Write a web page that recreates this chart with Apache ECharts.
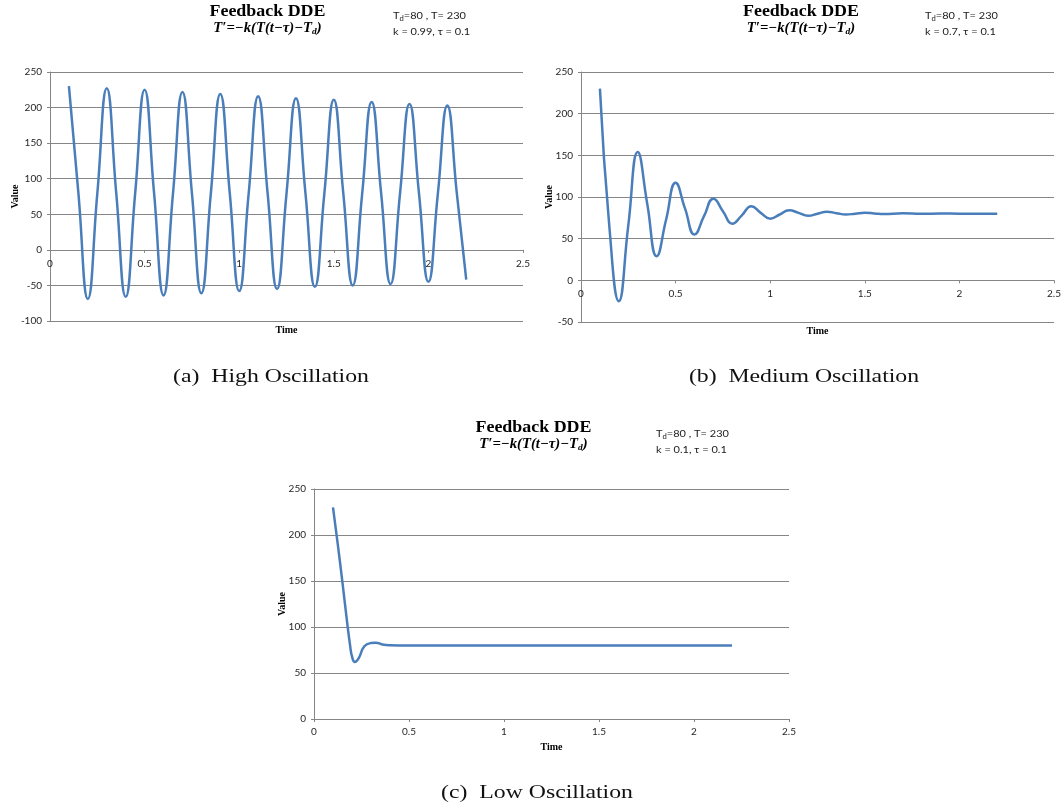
<!DOCTYPE html>
<html><head><meta charset="utf-8">
<script src="https://cdn.jsdelivr.net/npm/echarts@6/dist/echarts.min.js"></script>
<style>html,body{margin:0;padding:0;background:#fff}#c{width:1064px;height:808px}</style>
</head><body><div id="c"></div>
<script>
// ---- data ----
const timesA = [0.10,0.15,0.20,0.25,0.30,0.35,0.40,0.45,0.50,0.55,0.60,0.65,0.70,0.75,0.80,0.85,0.90,0.95,1.00,1.05,1.10,1.15,1.20,1.25,1.30,1.35,1.40,1.45,1.50,1.55,1.60,1.65,1.70,1.75,1.80,1.85,1.90,1.95,2.00,2.05,2.10,2.15,2.20];
const valuesA = [230,80,-69,79,227,80,-66,79,225,80,-64,79,222,80,-61,79,219,80,-58,79,216,80,-55,79,213,80,-52,79,211,80,-50,79,208,80,-48,79,205,80,-45,79,203,80,-42];

const timesB = [0.10,0.15,0.20,0.25,0.30,0.35,0.40,0.45,0.50,0.55,0.60,0.65,0.70,0.75,0.80,0.85,0.90,0.95,1.00,1.05,1.10,1.15,1.20,1.25,1.30,1.35,1.40,1.45,1.50,1.55,1.60,1.70,1.80,1.90,2.00,2.10,2.20];
const valuesB = [230,64,-25,66,154,92,29,73,117,86,55,77,98,83,68,78,89,81,74,79,84,81,77.5,80,82.4,80.6,79,80,81,80.3,79.5,80.4,79.8,80.2,80,80,80];

const timesC = [0.100,0.125,0.150,0.175,0.190,0.200,0.215,0.235,0.265,0.300,0.325,0.360,0.400,0.500,0.700,1.000,1.500,2.000,2.200];
const valuesC = [230,190,148,104,80,68,62,66,79,82.6,83,81,80.2,80,80,80,80,80,80];

const yRanges = [[-100,250],[-50,250],[0,250]];
const xRange = [0, 2.5];
const xStep = 0.5, yStep = 50;

const titleText = 'Feedback DDE';
const paramsA = ['80', '230', '0.99', '0.1'];
const paramsB = ['80', '230', '0.7', '0.1'];
const paramsC = ['80', '230', '0.1', '0.1'];
const captions = ['(a)  High Oscillation', '(b)  Medium Oscillation', '(c)  Low Oscillation'];

// ---- chart ----
const zip = (xs, ys) => xs.map((x, i) => [x, ys[i]]);
const AX = '#868686';
const grids = [
  {left: 50, top: 72, width: 473, height: 249},
  {left: 581, top: 72, width: 476, height: 250},
  {left: 314, top: 489, width: 475, height: 230}
];
// x axis sits on the value 0 line: shift it up from the grid bottom accordingly
const zeroOffset = (g, r) => -g.height * (0 - r[0]) / (r[1] - r[0]);
const timeGaps = [76, 46, 23];
const valueGaps = [29.5, 27, 27];
const labelMargins = [9, 8, 8];
const labelFont = {fontFamily: 'Lato', fontSize: 10, color: '#262626'};
const nameFont = {fontFamily: 'Liberation Serif', fontWeight: 'bold', fontSize: 10, color: '#000'};

const xAxes = grids.map((g, i) => ({
  type: 'value', gridIndex: i, min: xRange[0], max: xRange[1], interval: xStep,
  offset: zeroOffset(g, yRanges[i]),
  axisLine: {show: true, onZero: false, lineStyle: {color: AX, width: 1}},
  axisTick: {show: true, length: 3, lineStyle: {color: AX}},
  axisLabel: Object.assign({margin: labelMargins[i]}, labelFont),
  splitLine: {show: false},
  name: 'Time', nameLocation: 'middle', nameGap: timeGaps[i], nameMoveOverlap: false, nameTextStyle: nameFont
}));
const yAxes = grids.map((g, i) => ({
  type: 'value', gridIndex: i, min: yRanges[i][0], max: yRanges[i][1], interval: yStep,
  axisLine: {show: true, onZero: false, lineStyle: {color: AX, width: 1}},
  axisTick: {show: true, length: 3, lineStyle: {color: AX}},
  axisLabel: Object.assign({margin: 8}, labelFont),
  splitLine: {show: true, lineStyle: {color: AX, width: 1}},
  name: 'Value', nameLocation: 'middle', nameGap: valueGaps[i], nameRotate: 90, nameMoveOverlap: false, nameTextStyle: nameFont
}));
const seriesData = [zip(timesA, valuesA), zip(timesB, valuesB), zip(timesC, valuesC)];
const series = seriesData.map((d, i) => ({
  type: 'line', xAxisIndex: i, yAxisIndex: i, data: d,
  showSymbol: false, smooth: 0.5,
  lineStyle: {color: '#4a7ebb', width: 2.5}, silent: true
}));

function titleBlock(cx, y) {
  return [
    {type: 'text', x: cx, y: y, scaleX: 1.12, style: {text: titleText, font: 'bold 16px "Liberation Serif"', fill: '#000', align: 'center', verticalAlign: 'middle', textAlign: 'center', textVerticalAlign: 'middle'}},
    {type: 'text', x: cx, y: y + 16, scaleX: 1.05, style: {
      text: '{f|T′=−k(T(t−τ)−T}{s|d}{f|)}', align: 'center', verticalAlign: 'middle', textAlign: 'center', textVerticalAlign: 'middle',
      rich: {
        f: {font: 'italic bold 14px "Liberation Serif"', fill: '#000', lineHeight: 16, verticalAlign: 'middle'},
        s: {font: 'italic bold 9px "Liberation Serif"', fill: '#000', lineHeight: 9, verticalAlign: 'bottom'}
      }}}
  ];
}
function paramBlock(x, y, p) {
  const rich = {
    a: {font: '10px Lato', fill: '#1a1a1a', lineHeight: 13, verticalAlign: 'middle'},
    s: {font: '7px Lato', fill: '#1a1a1a', lineHeight: 7, verticalAlign: 'bottom'}
  };
  return [
    {type: 'text', x: x, y: y, scaleX: 1.1, style: {text: '{a|T}{s|d}{a|=' + p[0] + ' , T= ' + p[1] + '}', rich: rich, align: 'left', verticalAlign: 'middle', textAlign: 'left', textVerticalAlign: 'middle'}},
    {type: 'text', x: x, y: y + 15.5, scaleX: 1.1, style: {text: '{a|k = ' + p[2] + ', τ = ' + p[3] + '}', rich: rich, align: 'left', verticalAlign: 'middle', textAlign: 'left', textVerticalAlign: 'middle'}}
  ];
}
function caption(cx, y, t) {
  return {type: 'text', x: cx, y: y, scaleX: 1.25, style: {text: t, font: '19px "Liberation Serif"', fill: '#111', align: 'center', verticalAlign: 'middle', textAlign: 'center', textVerticalAlign: 'middle'}};
}

const graphic = [].concat(
  titleBlock(267.5, 12), titleBlock(801, 12), titleBlock(533.5, 428),
  paramBlock(393, 16, paramsA), paramBlock(925, 16, paramsB), paramBlock(656, 434, paramsC),
  [caption(271, 377, captions[0]), caption(804, 377, captions[1]), caption(537, 793, captions[2])]
);

const chart = echarts.init(document.getElementById('c'), null, {renderer: 'canvas'});
chart.setOption({
  animation: false,
  backgroundColor: '#fff',
  grid: grids,
  xAxis: xAxes,
  yAxis: yAxes,
  series: series,
  graphic: graphic
});
</script>
</body></html>
